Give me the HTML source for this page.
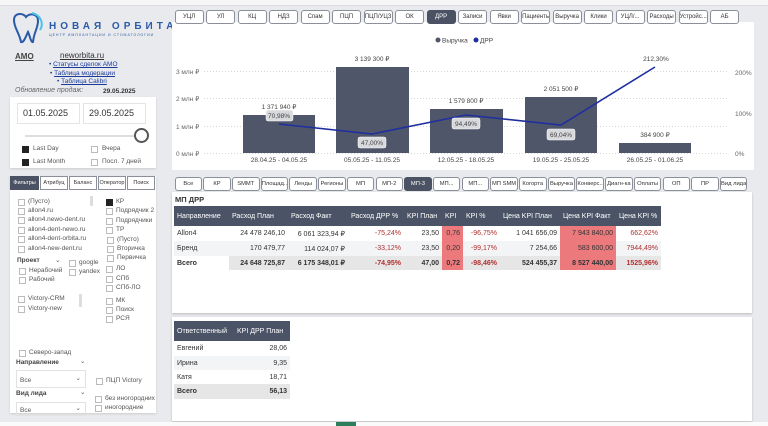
<!DOCTYPE html>
<html><head><meta charset="utf-8">
<style>
*{margin:0;padding:0;box-sizing:border-box}
body{width:768px;height:426px;overflow:hidden;background:#e8eaed;font-family:"Liberation Sans","Noto Sans CJK SC",sans-serif;color:#333;position:relative}
.a{position:absolute}
.tab{position:absolute;height:14px;border:1px solid #8a8f99;border-radius:3px;background:#fff;font-size:6px;text-align:center;line-height:12px;white-space:nowrap;overflow:hidden;color:#333}
.tab.on{background:#4a5263;color:#fff;border-color:#4a5263}
.cb{position:absolute;width:7px;height:7px;border:1px solid #bbb;background:#fff}
.cb.on{background:#222;border-color:#222}
.lt{position:absolute;font-size:6.5px;color:#555;white-space:nowrap}
table{border-collapse:collapse;font-size:7px}
td,th{padding:0 3px;white-space:nowrap}
th{background:#4b5467;color:#fff;font-weight:normal;text-align:left;height:20px}
.r{text-align:right}
.red{background:#ec7a7c}
.rt{color:#b03030}
</style></head><body>
<div class="a" style="left:0;top:0;width:768px;height:6px;background:#f6f6f6;border-bottom:1px solid #ddd"></div>
<svg class="a" style="left:8px;top:10px" width="36" height="36" viewBox="0 0 36 36"><path d="M6 10 C6 2 16 3 18 7 C21 3 30 3 30 11 C30 18 26 22 25 32 C23 33 22 26 20 22 C18 26 16 33 13 32 C11 22 6 18 6 10Z" fill="none" stroke="#2a5aa8" stroke-width="2"/><path d="M24 3 C33 5 36 14 32 20" fill="none" stroke="#4fc0e8" stroke-width="2"/></svg>
<div class="a" style="left:49px;top:21px;font-size:10px;font-weight:bold;letter-spacing:4px;color:#2a5aa8">НОВАЯ ОРБИТА</div>
<div class="a" style="left:49px;top:33px;font-size:3.5px;letter-spacing:1px;color:#2a5aa8">ЦЕНТР ИМПЛАНТАЦИИ И СТОМАТОЛОГИИ</div>
<div class="a" style="left:15px;top:52px;font-size:8px;font-weight:bold;text-decoration:underline;color:#444">АМО</div>
<div class="a" style="left:60px;top:51px;font-size:8px;text-decoration:underline;color:#333">neworbita.ru</div>
<div class="a" style="left:49px;top:61px;font-size:6.5px;color:#1a3a9a">• <u>Статусы сделок АМО</u></div>
<div class="a" style="left:50px;top:70px;font-size:6.5px;color:#1a3a9a">• <u>Таблица модерации</u></div>
<div class="a" style="left:57px;top:78px;font-size:6.5px;color:#1a3a9a">• <u>Таблица Calibri</u></div>
<div class="a" style="left:15px;top:87px;font-size:7px;font-style:italic;color:#666">Обновление продаж:</div>
<div class="a" style="left:103px;top:88px;font-size:6.5px;font-weight:bold">29.05.2025</div>
<div class="a" style="left:10px;top:97px;width:146px;height:71px;background:#fff;box-shadow:0 1px 2px #ccc"></div>
<div class="a" style="left:17px;top:103px;width:63px;height:21px;border:1px solid #e4e4e4;font-size:9px;line-height:19px;padding-left:5px">01.05.2025</div>
<div class="a" style="left:83px;top:103px;width:63px;height:21px;border:1px solid #e4e4e4;font-size:9px;line-height:19px;padding-left:5px">29.05.2025</div>
<div class="a" style="left:25px;top:135px;width:115px;height:2px;background:#ddd"></div>
<div class="a" style="left:134px;top:128px;width:15px;height:15px;border-radius:50%;border:2px solid #555;background:#fff"></div>
<div class="cb on" style="left:22px;top:146px"></div><div class="lt" style="left:33px;top:145px">Last Day</div>
<div class="cb on" style="left:22px;top:159px"></div><div class="lt" style="left:33px;top:158px">Last Month</div>
<div class="cb" style="left:91px;top:146px"></div><div class="lt" style="left:102px;top:145px">Вчера</div>
<div class="cb" style="left:91px;top:159px"></div><div class="lt" style="left:102px;top:158px">Посл. 7 дней</div>
<div class="a" style="left:10px;top:176px;width:146px;height:237px;background:#fff;box-shadow:0 1px 2px #ccc"></div>
<div class="tab on" style="left:10px;top:176px;width:29px;border-radius:0;font-size:5.5px">Фильтры</div>
<div class="tab" style="left:40px;top:176px;width:28px;border-radius:0;font-size:5.5px">Атрибуц</div>
<div class="tab" style="left:69px;top:176px;width:28px;border-radius:0;font-size:5.5px">Баланс</div>
<div class="tab" style="left:98px;top:176px;width:28px;border-radius:0;font-size:5.5px">Оператор</div>
<div class="tab" style="left:127px;top:176px;width:28px;border-radius:0;font-size:5.5px">Поиск</div>
<div class="cb" style="left:18px;top:199px"></div><div class="lt" style="left:28px;top:198px">(Пусто)</div>
<div class="cb" style="left:18px;top:208px"></div><div class="lt" style="left:28px;top:207px">allon4.ru</div>
<div class="cb" style="left:18px;top:217px"></div><div class="lt" style="left:28px;top:216px">allon4.newo-dent.ru</div>
<div class="cb" style="left:18px;top:227px"></div><div class="lt" style="left:28px;top:226px">allon4-dent-newo.ru</div>
<div class="cb" style="left:18px;top:236px"></div><div class="lt" style="left:28px;top:235px">allon4-dent-orbita.ru</div>
<div class="cb" style="left:18px;top:246px"></div><div class="lt" style="left:28px;top:245px">allon4-new-dent.ru</div>
<div class="a" style="left:90px;top:196px;width:3px;height:10px;background:#ddd"></div>
<div class="a" style="left:17px;top:257px;font-size:6.5px;font-weight:bold;color:#444">Проект</div><div class="lt" style="left:55px;top:256px">⌄</div>
<div class="cb" style="left:69px;top:260px"></div><div class="lt" style="left:79px;top:259px">google</div>
<div class="cb" style="left:69px;top:269px"></div><div class="lt" style="left:79px;top:268px">yandex</div>
<div class="cb" style="left:19px;top:268px"></div><div class="lt" style="left:29px;top:267px">Нерабочий</div>
<div class="cb" style="left:19px;top:277px"></div><div class="lt" style="left:29px;top:276px">Рабочий</div>
<div class="cb" style="left:18px;top:296px"></div><div class="lt" style="left:28px;top:295px">Victory-CRM</div>
<div class="cb" style="left:18px;top:306px"></div><div class="lt" style="left:28px;top:305px">Victory-new</div>
<div class="a" style="left:79px;top:294px;width:3px;height:13px;background:#ddd"></div>
<div class="cb on" style="left:106px;top:199px"></div><div class="lt" style="left:116px;top:198px">КР</div>
<div class="cb" style="left:106px;top:208px"></div><div class="lt" style="left:116px;top:207px">Подрядчик 2</div>
<div class="cb" style="left:106px;top:218px"></div><div class="lt" style="left:116px;top:217px">Подрядчики</div>
<div class="cb" style="left:106px;top:227px"></div><div class="lt" style="left:116px;top:226px">ТР</div>
<div class="cb" style="left:107px;top:237px"></div><div class="lt" style="left:117px;top:236px">(Пусто)</div>
<div class="cb" style="left:107px;top:246px"></div><div class="lt" style="left:117px;top:245px">Вторичка</div>
<div class="cb" style="left:107px;top:255px"></div><div class="lt" style="left:117px;top:254px">Первичка</div>
<div class="cb" style="left:106px;top:266px"></div><div class="lt" style="left:116px;top:265px">ЛО</div>
<div class="cb" style="left:106px;top:276px"></div><div class="lt" style="left:116px;top:275px">СПб</div>
<div class="cb" style="left:106px;top:285px"></div><div class="lt" style="left:116px;top:284px">СПб-ЛО</div>
<div class="cb" style="left:106px;top:298px"></div><div class="lt" style="left:116px;top:297px">МК</div>
<div class="cb" style="left:106px;top:307px"></div><div class="lt" style="left:116px;top:306px">Поиск</div>
<div class="cb" style="left:106px;top:316px"></div><div class="lt" style="left:116px;top:315px">РСЯ</div>
<div class="cb" style="left:19px;top:350px"></div><div class="lt" style="left:29px;top:349px">Северо-запад</div>
<div class="a" style="left:16px;top:359px;font-size:6.5px;font-weight:bold;color:#444">Направление</div><div class="lt" style="left:80px;top:357px">⌄</div>
<div class="a" style="left:16px;top:370px;width:70px;height:18px;border:1px solid #e2e2e2;font-size:6.5px;padding:6px 0 0 3px;color:#555">Все<span style="position:absolute;right:4px;top:3px">⌄</span></div>
<div class="cb" style="left:96px;top:378px"></div><div class="lt" style="left:106px;top:377px">ПЦП Victory</div>
<div class="a" style="left:16px;top:390px;font-size:6.5px;font-weight:bold;color:#444">Вид лида</div><div class="lt" style="left:80px;top:388px">⌄</div>
<div class="a" style="left:16px;top:402px;width:70px;height:14px;border:1px solid #e2e2e2;font-size:6.5px;padding:4px 0 0 3px;color:#555">Все<span style="position:absolute;right:4px;top:1px">⌄</span></div>
<div class="cb" style="left:95px;top:396px"></div><div class="lt" style="left:105px;top:395px">без иногородних</div>
<div class="cb" style="left:95px;top:405px"></div><div class="lt" style="left:105px;top:404px">иногородние</div>

<div class="a" style="left:172px;top:22px;width:582px;height:148px;background:#fff"></div>
<div id="t1"></div>
<svg class="a" style="left:0;top:0" width="768" height="170">
<g stroke="#d5d5d5" stroke-dasharray="1,2" stroke-width="1">
<line x1="204" x2="729" y1="71.5" y2="71.5"/><line x1="204" x2="729" y1="98.5" y2="98.5"/><line x1="204" x2="729" y1="126.5" y2="126.5"/><line x1="204" x2="729" y1="153.5" y2="153.5"/></g>
<g font-size="6.5" fill="#666" font-family="Liberation Sans,sans-serif">
<text x="176" y="74">3 млн ₽</text><text x="176" y="101">2 млн ₽</text><text x="176" y="129">1 млн ₽</text><text x="176" y="156">0 млн ₽</text>
<text x="735" y="75">200%</text><text x="735" y="116">100%</text><text x="735" y="156">0%</text></g>
<g fill="#4f5669"><rect x="243" y="115" width="72" height="38"/><rect x="336" y="67" width="73" height="86"/><rect x="430" y="109" width="73" height="44"/><rect x="525" y="97" width="72" height="56"/><rect x="619" y="143" width="72" height="10"/></g>
<g font-size="6.5" fill="#444" text-anchor="middle" font-family="Liberation Sans,sans-serif">
<text x="279" y="109">1 371 940 ₽</text><text x="372" y="61">3 139 300 ₽</text><text x="466" y="103">1 579 800 ₽</text><text x="561" y="91">2 051 500 ₽</text><text x="655" y="137">384 900 ₽</text><text x="656" y="61">212,30%</text>
<text x="279" y="162">28.04.25 - 04.05.25</text><text x="372" y="162">05.05.25 - 11.05.25</text><text x="466" y="162">12.05.25 - 18.05.25</text><text x="561" y="162">19.05.25 - 25.05.25</text><text x="655" y="162">26.05.25 - 01.06.25</text></g>
<polyline points="279,124 372,134 466,115 561,125 655,67" fill="none" stroke="#1f2fa0" stroke-width="1.6"/>
<g fill="#d8d9dc" stroke="#fff" stroke-width=".5"><rect x="266" y="110" width="27" height="11" rx="2"/><rect x="358" y="137" width="28" height="11" rx="2"/><rect x="452" y="118" width="28" height="11" rx="2"/><rect x="547" y="129" width="28" height="11" rx="2"/></g>
<g font-size="6.5" fill="#444" text-anchor="middle" font-family="Liberation Sans,sans-serif"><text x="279" y="118">70,98%</text><text x="372" y="145">47,00%</text><text x="466" y="126">94,49%</text><text x="561" y="137">69,04%</text></g>
<circle cx="438" cy="40" r="2.5" fill="#4f5669"/><circle cx="476" cy="40" r="2.5" fill="#1f2fa0"/>
<g font-size="6.5" fill="#444" font-family="Liberation Sans,sans-serif"><text x="442" y="42.5">Выручка</text><text x="480" y="42.5">ДРР</text></g>
</svg>
<div id="t2"></div>
<div class="a" style="left:172px;top:192px;width:580px;height:121px;background:#fff;box-shadow:0 1px 2px #bbb"></div>
<div class="a" style="left:175px;top:195px;font-size:7.5px;font-weight:bold">МП ДРР</div>
<table class="a" style="left:174px;top:206px;width:487px">
<tr><th style="width:55px">Направление</th><th style="width:59px">Расход План</th><th style="width:60px">Расход Факт</th><th style="width:56px">Расход ДРР %</th><th style="width:38px">KPI План</th><th style="width:21px">KPI</th><th style="width:37px">KPI %</th><th style="width:60px">Цена KPI План</th><th style="width:56px">Цена KPI Факт</th><th>Цена KPI %</th></tr>
<tr style="height:15px"><td>Allon4</td><td class="r">24 478 246,10</td><td class="r">6 061 323,94 ₽</td><td class="r rt">-75,24%</td><td class="r">23,50</td><td class="r red">0,76</td><td class="r rt">-96,75%</td><td class="r">1 041 656,09</td><td class="r red">7 943 840,00</td><td class="r rt">662,62%</td></tr>
<tr style="height:15px;background:#f3f4f6"><td>Бренд</td><td class="r">170 479,77</td><td class="r">114 024,07 ₽</td><td class="r rt">-33,12%</td><td class="r">23,50</td><td class="r red">0,20</td><td class="r rt">-99,17%</td><td class="r">7 254,66</td><td class="r red">583 600,00</td><td class="r rt">7944,49%</td></tr>
<tr style="height:14px;background:#e6e6e6;font-weight:bold"><td style="background:#fff">Всего</td><td class="r">24 648 725,87</td><td class="r">6 175 348,01 ₽</td><td class="r rt">-74,95%</td><td class="r">47,00</td><td class="r red">0,72</td><td class="r rt">-98,46%</td><td class="r">524 455,37</td><td class="r red">8 527 440,00</td><td class="r rt">1525,96%</td></tr>
</table>
<div class="a" style="left:172px;top:317px;width:580px;height:104px;background:#fff;box-shadow:0 1px 2px #bbb"></div>
<table class="a" style="left:174px;top:321px;width:116px">
<tr><th style="height:19px;width:60px">Ответственный</th><th>KPI ДРР План</th></tr>
<tr style="height:15px"><td>Евгений</td><td class="r">28,06</td></tr>
<tr style="height:14px;background:#f3f4f6"><td>Ирина</td><td class="r">9,35</td></tr>
<tr style="height:14px"><td>Катя</td><td class="r">18,71</td></tr>
<tr style="height:15px;background:#e6e6e6;font-weight:bold"><td>Всего</td><td class="r">56,13</td></tr>
</table>
<div class="a" style="left:0;top:422px;width:768px;height:4px;background:#fafafa"></div>
<div class="a" style="left:336px;top:422px;width:20px;height:4px;background:#2e7d5b"></div>
<script>
var a=["УЦЛ","УЛ","КЦ","НДЗ","Спам","ПЦП","ПЦП/УЦЗ","ОК","ДРР","Записи","Явки","Пациенты","Выручка","Клики","УЦЛ/...","Расходы","Устройс...","АБ"],h="";
a.forEach(function(t,i){h+='<div class="tab'+(i==8?' on':'')+'" style="left:'+(174.6+31.5*i)+'px;top:10px;width:29px">'+t+'</div>';});
document.getElementById("t1").innerHTML=h;
var b=["Все","КР","SMMT","Площад...","Ленды","Регионы","МП","МП-2","МП-3","МП...","МП...","МП SMM","Когорта","Выручка","Конверс...","Диагн-ка","Оплаты","ОП","ПР","Вид лида"];h="";
b.forEach(function(t,i){h+='<div class="tab'+(i==8?' on':'')+'" style="left:'+(174.6+28.7*i)+'px;top:177px;width:27.5px;font-size:5.8px">'+t+'</div>';});
document.getElementById("t2").innerHTML=h;
</script>
</body></html>
